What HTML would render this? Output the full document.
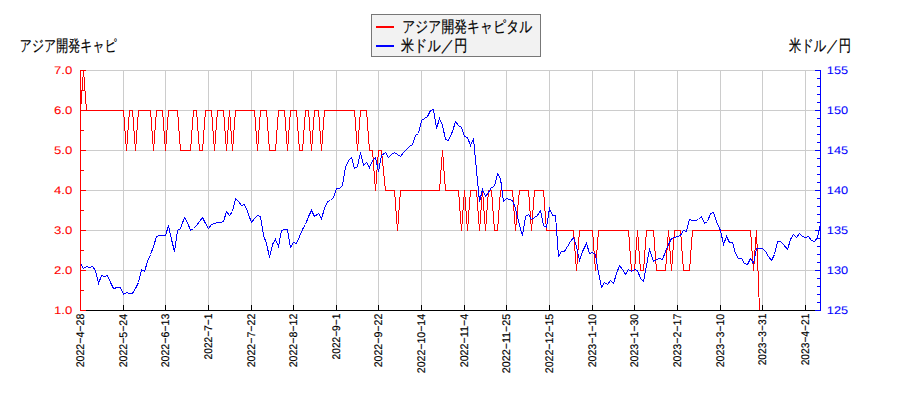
<!DOCTYPE html>
<html><head><meta charset="utf-8"><title>chart</title>
<style>html,body{margin:0;padding:0;background:#fff;width:900px;height:400px;overflow:hidden}
svg{display:block;font-family:"Liberation Sans",sans-serif}</style></head>
<body><svg width="900" height="400" viewBox="0 0 900 400" shape-rendering="crispEdges">
<defs><clipPath id="clip"><rect x="80" y="70" width="741" height="241"/></clipPath></defs>
<path d="M80,70.5H820 M80,110.5H820 M80,150.5H820 M80,190.5H820 M80,230.5H820 M80,270.5H820 M80.5,70V310 M123.5,70V310 M165.5,70V310 M208.5,70V310 M251.5,70V310 M293.5,70V310 M336.5,70V310 M378.5,70V310 M421.5,70V310 M464.5,70V310 M506.5,70V310 M549.5,70V310 M592.5,70V310 M634.5,70V310 M677.5,70V310 M720.5,70V310 M762.5,70V310 M805.5,70V310" stroke="#cccccc" stroke-width="1" fill="none"/>
<g clip-path="url(#clip)"><path d="M80.50,110.50 L83.50,70.50 L86.50,110.50 L89.50,110.50 L92.50,110.50 L95.50,110.50 L98.50,110.50 L101.50,110.50 L104.50,110.50 L107.50,110.50 L110.50,110.50 L113.50,110.50 L117.50,110.50 L120.50,110.50 L123.50,110.50 L126.50,150.50 L129.50,110.50 L132.50,110.50 L135.50,150.50 L138.50,110.50 L141.50,110.50 L144.50,110.50 L147.50,110.50 L150.50,110.50 L153.50,150.50 L156.50,110.50 L159.50,110.50 L162.50,110.50 L165.50,150.50 L168.50,110.50 L171.50,110.50 L174.50,110.50 L177.50,110.50 L180.50,150.50 L184.50,150.50 L187.50,150.50 L190.50,150.50 L193.50,110.50 L196.50,110.50 L199.50,150.50 L202.50,150.50 L205.50,110.50 L208.50,110.50 L211.50,110.50 L214.50,150.50 L217.50,110.50 L220.50,110.50 L223.50,110.50 L226.50,150.50 L229.50,110.50 L232.50,150.50 L235.50,110.50 L238.50,110.50 L241.50,110.50 L244.50,110.50 L247.50,110.50 L251.50,110.50 L254.50,110.50 L257.50,150.50 L260.50,110.50 L263.50,110.50 L266.50,110.50 L269.50,150.50 L272.50,150.50 L275.50,150.50 L278.50,110.50 L281.50,110.50 L284.50,110.50 L287.50,150.50 L290.50,110.50 L293.50,110.50 L296.50,110.50 L299.50,150.50 L302.50,150.50 L305.50,110.50 L308.50,110.50 L311.50,150.50 L314.50,110.50 L318.50,110.50 L321.50,150.50 L324.50,110.50 L327.50,110.50 L330.50,110.50 L333.50,110.50 L336.50,110.50 L339.50,110.50 L342.50,110.50 L345.50,110.50 L348.50,110.50 L351.50,110.50 L354.50,110.50 L357.50,150.50 L360.50,110.50 L363.50,110.50 L366.50,110.50 L369.50,150.50 L372.50,150.50 L375.50,190.50 L378.50,150.50 L381.50,150.50 L385.50,190.50 L388.50,190.50 L391.50,190.50 L394.50,190.50 L397.50,230.50 L400.50,190.50 L403.50,190.50 L406.50,190.50 L409.50,190.50 L412.50,190.50 L415.50,190.50 L418.50,190.50 L421.50,190.50 L424.50,190.50 L427.50,190.50 L430.50,190.50 L433.50,190.50 L436.50,190.50 L439.50,190.50 L442.50,150.50 L445.50,190.50 L448.50,190.50 L452.50,190.50 L455.50,190.50 L458.50,190.50 L461.50,230.50 L464.50,190.50 L467.50,230.50 L470.50,190.50 L473.50,190.50 L476.50,190.50 L479.50,230.50 L482.50,190.50 L485.50,230.50 L488.50,190.50 L491.50,190.50 L494.50,230.50 L497.50,230.50 L500.50,190.50 L503.50,190.50 L506.50,190.50 L509.50,190.50 L512.50,190.50 L515.50,230.50 L519.50,190.50 L522.50,190.50 L525.50,190.50 L528.50,190.50 L531.50,230.50 L534.50,190.50 L537.50,190.50 L540.50,190.50 L543.50,190.50 L546.50,230.50 L549.50,230.50 L552.50,230.50 L555.50,230.50 L558.50,230.50 L561.50,230.50 L564.50,230.50 L567.50,230.50 L570.50,230.50 L573.50,230.50 L576.50,270.50 L579.50,230.50 L582.50,230.50 L586.50,230.50 L589.50,230.50 L592.50,230.50 L595.50,270.50 L598.50,230.50 L601.50,230.50 L604.50,230.50 L607.50,230.50 L610.50,230.50 L613.50,230.50 L616.50,230.50 L619.50,230.50 L622.50,230.50 L625.50,230.50 L628.50,230.50 L631.50,270.50 L634.50,270.50 L637.50,230.50 L640.50,270.50 L643.50,270.50 L646.50,230.50 L649.50,230.50 L653.50,230.50 L656.50,270.50 L659.50,270.50 L662.50,270.50 L665.50,270.50 L668.50,230.50 L671.50,270.50 L674.50,230.50 L677.50,230.50 L680.50,230.50 L683.50,270.50 L686.50,270.50 L689.50,270.50 L692.50,230.50 L695.50,230.50 L698.50,230.50 L701.50,230.50 L704.50,230.50 L707.50,230.50 L710.50,230.50 L713.50,230.50 L716.50,230.50 L720.50,230.50 L723.50,230.50 L726.50,230.50 L729.50,230.50 L732.50,230.50 L735.50,230.50 L738.50,230.50 L741.50,230.50 L744.50,230.50 L747.50,230.50 L750.50,230.50 L753.50,270.50 L756.50,230.50 L759.50,310.50" stroke="#ff0000" stroke-width="1" fill="none"/>
<path d="M80.50,263.50 L83.50,268.50 L86.50,266.50 L89.50,267.50 L92.50,266.50 L95.50,270.50 L98.50,283.50 L101.50,275.50 L104.50,276.50 L107.50,275.50 L110.50,282.50 L113.50,288.50 L117.50,287.50 L120.50,287.50 L123.50,294.50 L126.50,292.50 L129.50,293.50 L132.50,293.50 L135.50,288.50 L138.50,282.50 L141.50,269.50 L144.50,271.50 L147.50,261.50 L150.50,254.50 L153.50,246.50 L156.50,236.50 L159.50,235.50 L162.50,235.50 L165.50,235.50 L168.50,225.50 L171.50,239.50 L174.50,251.50 L177.50,230.50 L180.50,228.50 L184.50,217.50 L187.50,222.50 L190.50,230.50 L193.50,228.50 L196.50,225.50 L199.50,221.50 L202.50,217.50 L205.50,223.50 L208.50,228.50 L211.50,224.50 L214.50,223.50 L217.50,222.50 L220.50,222.50 L223.50,221.50 L226.50,211.50 L229.50,215.50 L232.50,211.50 L235.50,198.50 L238.50,201.50 L241.50,205.50 L244.50,204.50 L247.50,211.50 L251.50,222.50 L254.50,218.50 L257.50,215.50 L260.50,216.50 L263.50,235.50 L266.50,243.50 L269.50,257.50 L272.50,244.50 L275.50,239.50 L278.50,246.50 L281.50,230.50 L284.50,229.50 L287.50,229.50 L290.50,247.50 L293.50,242.50 L296.50,243.50 L299.50,236.50 L302.50,229.50 L305.50,224.50 L308.50,216.50 L311.50,210.50 L314.50,216.50 L318.50,213.50 L321.50,218.50 L324.50,208.50 L327.50,201.50 L330.50,200.50 L333.50,197.50 L336.50,188.50 L339.50,188.50 L342.50,185.50 L345.50,167.50 L348.50,160.50 L351.50,157.50 L354.50,168.50 L357.50,166.50 L360.50,152.50 L363.50,165.50 L366.50,162.50 L369.50,167.50 L372.50,160.50 L375.50,157.50 L378.50,171.50 L381.50,155.50 L385.50,152.50 L388.50,157.50 L391.50,154.50 L394.50,152.50 L397.50,154.50 L400.50,156.50 L403.50,152.50 L406.50,149.50 L409.50,146.50 L412.50,144.50 L415.50,135.50 L418.50,133.50 L421.50,120.50 L424.50,118.50 L427.50,116.50 L430.50,110.50 L433.50,109.50 L436.50,128.50 L439.50,118.50 L442.50,125.50 L445.50,139.50 L448.50,140.50 L452.50,131.50 L455.50,121.50 L458.50,125.50 L461.50,127.50 L464.50,136.50 L467.50,137.50 L470.50,145.50 L473.50,138.50 L476.50,170.50 L479.50,201.50 L482.50,189.50 L485.50,196.50 L488.50,192.50 L491.50,187.50 L494.50,186.50 L497.50,173.50 L500.50,178.50 L503.50,201.50 L506.50,198.50 L509.50,199.50 L512.50,200.50 L515.50,208.50 L519.50,225.50 L522.50,235.50 L525.50,216.50 L528.50,214.50 L531.50,219.50 L534.50,217.50 L537.50,215.50 L540.50,210.50 L543.50,225.50 L546.50,227.50 L549.50,208.50 L552.50,215.50 L555.50,215.50 L558.50,256.50 L561.50,251.50 L564.50,251.50 L567.50,246.50 L570.50,241.50 L573.50,237.50 L576.50,246.50 L579.50,260.50 L582.50,251.50 L586.50,243.50 L589.50,253.50 L592.50,252.50 L595.50,254.50 L598.50,272.50 L601.50,287.50 L604.50,282.50 L607.50,284.50 L610.50,280.50 L613.50,283.50 L616.50,273.50 L619.50,265.50 L622.50,269.50 L625.50,274.50 L628.50,269.50 L631.50,271.50 L634.50,269.50 L637.50,270.50 L640.50,278.50 L643.50,281.50 L646.50,265.50 L649.50,249.50 L653.50,261.50 L656.50,259.50 L659.50,258.50 L662.50,259.50 L665.50,251.50 L668.50,244.50 L671.50,238.50 L674.50,237.50 L677.50,236.50 L680.50,235.50 L683.50,230.50 L686.50,231.50 L689.50,219.50 L692.50,220.50 L695.50,220.50 L698.50,219.50 L701.50,216.50 L704.50,223.50 L707.50,221.50 L710.50,213.50 L713.50,212.50 L716.50,221.50 L720.50,230.50 L723.50,244.50 L726.50,236.50 L729.50,242.50 L732.50,242.50 L735.50,253.50 L738.50,258.50 L741.50,258.50 L744.50,263.50 L747.50,264.50 L750.50,258.50 L753.50,263.50 L756.50,248.50 L759.50,248.50 L762.50,248.50 L765.50,251.50 L768.50,256.50 L771.50,260.50 L774.50,254.50 L777.50,241.50 L780.50,241.50 L783.50,244.50 L787.50,249.50 L790.50,239.50 L793.50,234.50 L796.50,237.50 L799.50,233.50 L802.50,236.50 L805.50,237.50 L808.50,236.50 L811.50,240.50 L814.50,241.50 L817.50,237.50 L820.50,223.50" stroke="#0000ff" stroke-width="1" fill="none"/></g>
<path d="M80.5,70V311 M80,70.5H86 M80,110.5H86 M80,150.5H86 M80,190.5H86 M80,230.5H86 M80,270.5H86 M80,310.5H86 M80,90.5H84 M80,130.5H84 M80,170.5H84 M80,210.5H84 M80,250.5H84 M80,290.5H84" stroke="#ff0000" stroke-width="1" fill="none"/>
<path d="M86,310.5H820 M123.5,305V310 M165.5,305V310 M208.5,305V310 M251.5,305V310 M293.5,305V310 M336.5,305V310 M378.5,305V310 M421.5,305V310 M464.5,305V310 M506.5,305V310 M549.5,305V310 M592.5,305V310 M634.5,305V310 M677.5,305V310 M720.5,305V310 M762.5,305V310 M805.5,305V310" stroke="#000000" stroke-width="1" fill="none"/>
<path d="M820.5,70V311 M815,70.5H820 M815,110.5H820 M815,150.5H820 M815,190.5H820 M815,230.5H820 M815,270.5H820 M815,310.5H820 M817,78.5H820 M817,86.5H820 M817,94.5H820 M817,102.5H820 M817,118.5H820 M817,126.5H820 M817,134.5H820 M817,142.5H820 M817,158.5H820 M817,166.5H820 M817,174.5H820 M817,182.5H820 M817,198.5H820 M817,206.5H820 M817,214.5H820 M817,222.5H820 M817,238.5H820 M817,246.5H820 M817,254.5H820 M817,262.5H820 M817,278.5H820 M817,286.5H820 M817,294.5H820 M817,302.5H820" stroke="#0000ff" stroke-width="1" fill="none"/>
<rect x="371.5" y="14.5" width="169" height="42" fill="#f2f2f2" stroke="#777777" stroke-width="1"/>
<path d="M376,27H394" stroke="#ff0000" stroke-width="2"/>
<path d="M376,46H394" stroke="#0000ff" stroke-width="2"/>
<g font-family="Liberation Sans, sans-serif" text-rendering="geometricPrecision">
<text x="72.3" y="73.9" fill="#ff0000" stroke="#ff0000" stroke-width="0.06" text-anchor="end" font-size="11" textLength="18.35" lengthAdjust="spacingAndGlyphs">7.0</text>
<text x="72.3" y="113.9" fill="#ff0000" stroke="#ff0000" stroke-width="0.06" text-anchor="end" font-size="11" textLength="18.35" lengthAdjust="spacingAndGlyphs">6.0</text>
<text x="72.3" y="153.9" fill="#ff0000" stroke="#ff0000" stroke-width="0.06" text-anchor="end" font-size="11" textLength="18.35" lengthAdjust="spacingAndGlyphs">5.0</text>
<text x="72.3" y="193.9" fill="#ff0000" stroke="#ff0000" stroke-width="0.06" text-anchor="end" font-size="11" textLength="18.35" lengthAdjust="spacingAndGlyphs">4.0</text>
<text x="72.3" y="233.9" fill="#ff0000" stroke="#ff0000" stroke-width="0.06" text-anchor="end" font-size="11" textLength="18.35" lengthAdjust="spacingAndGlyphs">3.0</text>
<text x="72.3" y="273.9" fill="#ff0000" stroke="#ff0000" stroke-width="0.06" text-anchor="end" font-size="11" textLength="18.35" lengthAdjust="spacingAndGlyphs">2.0</text>
<text x="72.3" y="313.9" fill="#ff0000" stroke="#ff0000" stroke-width="0.06" text-anchor="end" font-size="11" textLength="18.35" lengthAdjust="spacingAndGlyphs">1.0</text>
<text x="826.8" y="73.9" fill="#0000ff" stroke="#0000ff" stroke-width="0.06" font-size="11" textLength="21.27" lengthAdjust="spacingAndGlyphs">155</text>
<text x="826.8" y="113.9" fill="#0000ff" stroke="#0000ff" stroke-width="0.06" font-size="11" textLength="21.27" lengthAdjust="spacingAndGlyphs">150</text>
<text x="826.8" y="153.9" fill="#0000ff" stroke="#0000ff" stroke-width="0.06" font-size="11" textLength="21.27" lengthAdjust="spacingAndGlyphs">145</text>
<text x="826.8" y="193.9" fill="#0000ff" stroke="#0000ff" stroke-width="0.06" font-size="11" textLength="21.27" lengthAdjust="spacingAndGlyphs">140</text>
<text x="826.8" y="233.9" fill="#0000ff" stroke="#0000ff" stroke-width="0.06" font-size="11" textLength="21.27" lengthAdjust="spacingAndGlyphs">135</text>
<text x="826.8" y="273.9" fill="#0000ff" stroke="#0000ff" stroke-width="0.06" font-size="11" textLength="21.27" lengthAdjust="spacingAndGlyphs">130</text>
<text x="826.8" y="313.9" fill="#0000ff" stroke="#0000ff" stroke-width="0.06" font-size="11" textLength="21.27" lengthAdjust="spacingAndGlyphs">125</text>
<text transform="translate(84.30,313.74) rotate(-90)" text-anchor="end" fill="#000000" stroke="#000000" stroke-width="0.18" font-size="11" textLength="53.59" lengthAdjust="spacingAndGlyphs">2022−4−28</text>
<text transform="translate(127.30,313.89) rotate(-90)" text-anchor="end" fill="#000000" stroke="#000000" stroke-width="0.18" font-size="11" textLength="53.44" lengthAdjust="spacingAndGlyphs">2022−5−24</text>
<text transform="translate(169.30,313.73) rotate(-90)" text-anchor="end" fill="#000000" stroke="#000000" stroke-width="0.18" font-size="11" textLength="53.60" lengthAdjust="spacingAndGlyphs">2022−6−13</text>
<text transform="translate(212.30,313.70) rotate(-90)" text-anchor="end" fill="#000000" stroke="#000000" stroke-width="0.18" font-size="11" textLength="45.71" lengthAdjust="spacingAndGlyphs">2022−7−1</text>
<text transform="translate(255.30,313.67) rotate(-90)" text-anchor="end" fill="#000000" stroke="#000000" stroke-width="0.18" font-size="11" textLength="53.67" lengthAdjust="spacingAndGlyphs">2022−7−22</text>
<text transform="translate(297.30,313.67) rotate(-90)" text-anchor="end" fill="#000000" stroke="#000000" stroke-width="0.18" font-size="11" textLength="53.67" lengthAdjust="spacingAndGlyphs">2022−8−12</text>
<text transform="translate(340.30,313.70) rotate(-90)" text-anchor="end" fill="#000000" stroke="#000000" stroke-width="0.18" font-size="11" textLength="45.71" lengthAdjust="spacingAndGlyphs">2022−9−1</text>
<text transform="translate(382.30,313.67) rotate(-90)" text-anchor="end" fill="#000000" stroke="#000000" stroke-width="0.18" font-size="11" textLength="53.67" lengthAdjust="spacingAndGlyphs">2022−9−22</text>
<text transform="translate(425.30,313.89) rotate(-90)" text-anchor="end" fill="#000000" stroke="#000000" stroke-width="0.18" font-size="11" textLength="59.34" lengthAdjust="spacingAndGlyphs">2022−10−14</text>
<text transform="translate(468.30,313.89) rotate(-90)" text-anchor="end" fill="#000000" stroke="#000000" stroke-width="0.18" font-size="11" textLength="53.44" lengthAdjust="spacingAndGlyphs">2022−11−4</text>
<text transform="translate(510.30,313.76) rotate(-90)" text-anchor="end" fill="#000000" stroke="#000000" stroke-width="0.18" font-size="11" textLength="59.48" lengthAdjust="spacingAndGlyphs">2022−11−25</text>
<text transform="translate(553.30,313.76) rotate(-90)" text-anchor="end" fill="#000000" stroke="#000000" stroke-width="0.18" font-size="11" textLength="59.48" lengthAdjust="spacingAndGlyphs">2022−12−15</text>
<text transform="translate(596.30,313.79) rotate(-90)" text-anchor="end" fill="#000000" stroke="#000000" stroke-width="0.18" font-size="11" textLength="53.55" lengthAdjust="spacingAndGlyphs">2023−1−10</text>
<text transform="translate(638.30,313.79) rotate(-90)" text-anchor="end" fill="#000000" stroke="#000000" stroke-width="0.18" font-size="11" textLength="53.55" lengthAdjust="spacingAndGlyphs">2023−1−30</text>
<text transform="translate(681.30,313.67) rotate(-90)" text-anchor="end" fill="#000000" stroke="#000000" stroke-width="0.18" font-size="11" textLength="53.67" lengthAdjust="spacingAndGlyphs">2023−2−17</text>
<text transform="translate(724.30,313.79) rotate(-90)" text-anchor="end" fill="#000000" stroke="#000000" stroke-width="0.18" font-size="11" textLength="53.55" lengthAdjust="spacingAndGlyphs">2023−3−10</text>
<text transform="translate(766.30,313.70) rotate(-90)" text-anchor="end" fill="#000000" stroke="#000000" stroke-width="0.18" font-size="11" textLength="51.61" lengthAdjust="spacingAndGlyphs">2023−3−31</text>
<text transform="translate(809.30,313.70) rotate(-90)" text-anchor="end" fill="#000000" stroke="#000000" stroke-width="0.18" font-size="11" textLength="51.61" lengthAdjust="spacingAndGlyphs">2023−4−21</text>
<text x="19.68" y="51" fill="#000000" stroke="#000000" stroke-width="0.2" font-size="16" textLength="97.24" lengthAdjust="spacingAndGlyphs">アジア開発キャピ</text>
<text x="788.94" y="51" fill="#000000" stroke="#000000" stroke-width="0.2" font-size="16" textLength="62.11" lengthAdjust="spacingAndGlyphs">米ドル／円</text>
<text x="402.16" y="32" fill="#000000" stroke="#000000" stroke-width="0.2" font-size="16" textLength="130.27" lengthAdjust="spacingAndGlyphs">アジア開発キャピタル</text>
<text x="400.98" y="51" fill="#000000" stroke="#000000" stroke-width="0.2" font-size="16" textLength="66.29" lengthAdjust="spacingAndGlyphs">米ドル／円</text>
</g>
</svg></body></html>
